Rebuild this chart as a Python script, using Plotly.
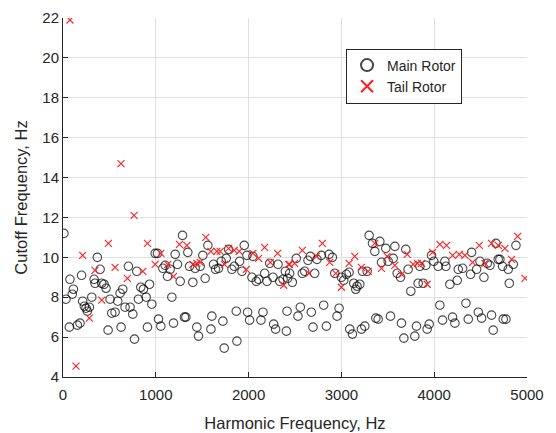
import plotly.graph_objects as go

main_x = [10, 32, 68, 75, 100, 112, 155, 183, 200, 212, 230, 248, 262, 284, 310, 335, 345, 370, 400, 417,
          442, 464, 486, 507, 525, 561, 590, 615, 626, 644, 669, 705, 723, 752, 770, 795, 813, 838, 867, 896,
          910, 932, 957, 993, 1018, 1029, 1054, 1076, 1101, 1126, 1155, 1173, 1191, 1209, 1234, 1263, 1288, 1309, 1324, 1345,
          1363, 1399, 1424, 1442, 1460, 1478, 1507, 1532, 1561, 1594, 1604, 1622, 1644, 1676, 1705, 1723, 1737, 1759, 1784, 1820,
          1845, 1867, 1874, 1903, 1928, 1953, 1982, 1989, 2011, 2036, 2047, 2083, 2108, 2133, 2155, 2173, 2198, 2227, 2263, 2270,
          2291, 2317, 2335, 2371, 2396, 2407, 2414, 2421, 2442, 2471, 2514, 2532, 2557, 2579, 2604, 2640, 2665, 2676, 2694, 2712,
          2737, 2784, 2809, 2838, 2867, 2903, 2928, 2953, 2975, 3000, 3025, 3054, 3083, 3090, 3119, 3133, 3155, 3169, 3198, 3216,
          3227, 3252, 3277, 3299, 3335, 3360, 3371, 3396, 3414, 3432, 3478, 3504, 3529, 3558, 3576, 3601, 3637, 3647, 3673, 3694,
          3719, 3748, 3791, 3809, 3827, 3845, 3881, 3910, 3924, 3946, 3971, 3996, 4043, 4061, 4090, 4115, 4126, 4169, 4198, 4223,
          4248, 4259, 4306, 4342, 4367, 4392, 4403, 4457, 4475, 4493, 4511, 4536, 4572, 4601, 4618, 4636, 4665, 4690, 4708, 4737,
          4744, 4773, 4798, 4809, 4852, 4881]
main_y = [11.2, 7.9, 6.5, 8.9, 8.15, 8.4, 6.6, 6.7, 9.1, 7.8, 7.55, 7.45, 7.3, 7.5, 8.0, 8.9, 8.7, 10.0, 9.4, 8.7,
          8.65, 8.45, 6.35, 7.9, 7.2, 7.25, 7.8, 8.2, 6.5, 8.4, 7.5, 9.55, 7.5, 7.15, 5.9, 9.3, 7.9, 8.5, 8.4, 8.0,
          6.5, 8.65, 7.65, 10.2, 10.2, 6.9, 6.55, 9.45, 9.6, 9.05, 9.4, 8.0, 6.7, 10.15, 9.65, 8.8, 11.1, 7.0, 7.0, 10.25,
          9.55, 8.75, 9.45, 6.5, 6.05, 9.55, 10.1, 8.95, 10.6, 6.4, 7.05, 9.65, 9.4, 9.45, 9.8, 6.8, 5.45, 9.95, 10.4, 9.4,
          9.55, 7.3, 5.8, 9.8, 9.3, 10.6, 10.1, 7.25, 6.85, 9.0, 10.05, 8.8, 8.9, 6.85, 7.25, 9.2, 8.8, 9.7, 9.0, 6.65,
          6.4, 9.65, 8.8, 8.9, 9.3, 6.3, 7.3, 8.95, 9.2, 8.75, 9.95, 7.05, 7.5, 9.2, 9.3, 9.85, 10.05, 7.25, 6.5, 9.2,
          9.9, 10.1, 7.6, 6.55, 10.15, 10.0, 9.2, 7.05, 7.45, 9.0, 8.85, 9.15, 9.25, 6.4, 6.15, 8.7, 8.4, 8.55, 8.65, 6.4,
          9.3, 6.55, 9.3, 11.1, 10.7, 10.3, 6.95, 6.9, 10.8, 9.75, 10.45, 9.8, 7.05, 9.95, 10.55, 9.2, 9.0, 6.7, 5.95, 10.4,
          9.4, 8.3, 6.05, 6.55, 8.7, 9.55, 8.7, 9.6, 6.4, 6.65, 10.1, 9.8, 9.55, 7.6, 6.85, 9.8, 9.55, 8.65, 7.0, 6.7,
          8.85, 9.4, 9.45, 7.7, 6.9, 9.15, 10.25, 9.4, 7.25, 9.8, 6.95, 9.0, 9.7, 9.6, 7.1, 6.35, 10.7, 9.9, 9.9, 9.55,
          6.9, 6.9, 9.4, 8.7, 9.65, 10.6]

tail_x = [75, 140, 212, 284, 345, 417, 489, 561, 625, 694, 766, 860, 910, 993, 1054, 1129, 1191, 1255, 1335, 1399,
          1442, 1478, 1539, 1594, 1658, 1694, 1741, 1784, 1845, 1899, 1975, 2047, 2108, 2173, 2234, 2313, 2378, 2432, 2442, 2496,
          2579, 2651, 2730, 2795, 2874, 2939, 3000, 3083, 3144, 3216, 3288, 3360, 3432, 3493, 3576, 3647, 3709, 3773, 3820, 3863,
          3924, 3982, 4061, 4133, 4198, 4270, 4331, 4414, 4486, 4547, 4618, 4690, 4762, 4834, 4899, 4978]
tail_y = [21.9, 4.55, 10.1, 6.95, 9.35, 7.85, 10.7, 9.5, 14.7, 8.95, 12.1, 9.3, 10.7, 9.65, 10.2, 9.65, 9.05, 10.65, 10.6, 9.65,
          9.7, 9.75, 11.0, 10.3, 10.3, 10.3, 9.65, 10.45, 10.35, 10.3, 9.4, 10.2, 9.95, 10.5, 9.75, 10.2, 8.6, 9.65, 9.65, 9.7,
          10.35, 9.2, 10.05, 10.7, 9.75, 9.2, 8.5, 9.7, 10.05, 9.5, 9.3, 10.7, 9.45, 10.05, 9.6, 9.15, 10.15, 9.65, 9.7, 9.7,
          8.65, 10.25, 10.65, 10.6, 10.1, 10.15, 10.1, 9.75, 10.6, 9.7, 10.7, 10.6, 10.45, 9.9, 11.05, 8.95]

x_ticks = [0, 1000, 2000, 3000, 4000, 5000]
y_ticks = [4, 6, 8, 10, 12, 14, 16, 18, 20, 22]

font = "Liberation Sans, Arial, Helvetica, sans-serif"
axcol = "#262626"

fig = go.Figure()
fig.add_trace(go.Scatter(
    x=main_x, y=main_y, mode="markers", name="Main Rotor",
    marker=dict(symbol="circle-open", size=8.5, color="rgba(0,0,0,0.72)", line=dict(width=1.1)),
))
fig.add_trace(go.Scatter(
    x=tail_x, y=tail_y, mode="markers", name="Tail Rotor",
    marker=dict(symbol="x-thin-open", size=7, color="#ff2020", line=dict(width=1.1, color="#ff2020")),
))

axis_common = dict(
    showgrid=True, gridcolor="#dfdfdf", gridwidth=1,
    showline=True, linecolor=axcol, linewidth=1,
    ticks="inside", ticklen=5, tickcolor=axcol, tickwidth=1,
    tickfont=dict(family=font, size=15, color=axcol),
    zeroline=False, mirror=False, automargin=False,
    ticklabeloverflow="allow",
)

# the page body has an ~8px default margin, so the canvas is offset by 8px
fig.update_layout(
    width=556, height=433,
    margin=dict(l=55, r=37, t=10, b=64, pad=0),
    paper_bgcolor="white", plot_bgcolor="white",
    font=dict(family=font, color=axcol),
    xaxis=dict(range=[0, 5000], tickvals=x_ticks, ticklabelstandoff=4,
               title=dict(text="Harmonic Frequency, Hz", font=dict(family=font, size=16.5, color=axcol), standoff=15),
               **axis_common),
    yaxis=dict(range=[4, 22], tickvals=y_ticks,
               title=dict(text="Cutoff Frequency, Hz", font=dict(family=font, size=16.5, color=axcol), standoff=10),
               **axis_common),
    legend=dict(x=0.610, y=0.915, xanchor="left", yanchor="top",
                bordercolor=axcol, borderwidth=1, bgcolor="white",
                font=dict(family=font, size=14, color=axcol),
                tracegroupgap=0, itemsizing="constant"),
    showlegend=True,
)

fig.write_html("out.html")
